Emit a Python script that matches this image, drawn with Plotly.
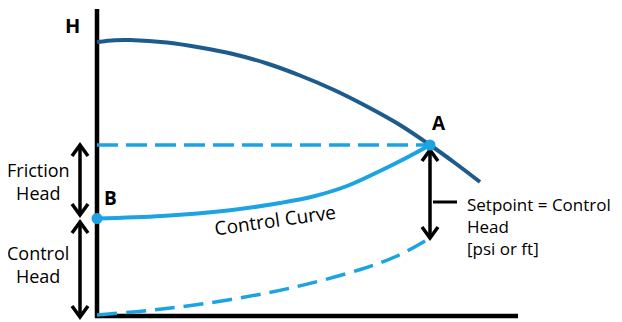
import plotly.graph_objects as go

# Units: flow Q and head H in arbitrary units (1 unit ~ 1 px)
pump_q = [0, 18, 33, 70, 103, 136, 170, 203, 236, 270, 303, 333, 358, 383]
pump_h = [274, 275.8, 276, 273.5, 268.5, 262, 252.5, 240.5, 226.5, 209.5, 191, 171, 153, 134]

ctrl_q = [0, 65, 131, 183, 216, 250, 283, 310, 333]
ctrl_h = [97.5, 100, 105.5, 113, 119.5, 130, 145, 158.5, 171]

sys_q = [0, 65, 131, 198, 265, 300, 333]
sys_h = [1, 7, 16, 29, 47, 60, 78]

point_A = (333, 171)
point_B = (0, 97.5)

DARK = "#1d5b8d"
LIGHT = "#1ba3e2"
FONT = "Open Sans"

fig = go.Figure()

def line(xs, ys, color="black", width=4, dash=None, shape="linear"):
    fig.add_trace(go.Scatter(x=xs, y=ys, mode="lines", hoverinfo="skip",
                             line=dict(color=color, width=width, dash=dash, shape=shape),
                             showlegend=False, cliponaxis=False))

# axes
line([0, 0], [-2, 307], width=4.5)
line([-2, 421], [0, 0], width=4.5)

# curves
line(pump_q, pump_h, DARK, 4, shape="spline")
line([0, point_A[0]], [point_A[1], point_A[1]], LIGHT, 3.5, dash="21px,8px")
line(sys_q, sys_h, LIGHT, 3.5, dash="20px,9px", shape="spline")
line(ctrl_q, ctrl_h, LIGHT, 4, shape="spline")

# double arrows
def double_arrow(q, h_top, h_bot, w=3.5):
    line([q, q], [h_top - 1, h_bot + 1], width=w)
    line([q - 8, q, q + 8], [h_top - 11, h_top, h_top - 11], width=w)
    line([q - 8, q, q + 8], [h_bot + 11, h_bot, h_bot + 11], width=w)

double_arrow(-17, 171, 101)
double_arrow(-17, 94, -1)
double_arrow(333, 166, 78)
line([336, 360], [114, 114], width=3)

# points
fig.add_trace(go.Scatter(x=[point_A[0], point_B[0]], y=[point_A[1], point_B[1]], mode="markers",
                         marker=dict(color=LIGHT, size=11), showlegend=False,
                         hoverinfo="skip", cliponaxis=False))

def text(q, h, s, size=16, bold=False, align="center", xanchor="center", angle=0):
    fig.add_annotation(x=q, y=h, text=f"<b>{s}</b>" if bold else s, showarrow=False,
                       xref="x", yref="y", xanchor=xanchor, yanchor="middle",
                       align=align, textangle=angle,
                       font=dict(family=FONT, size=size, color="black"))

text(-25, 291, "H", 20, bold=True)
text(342, 193, "A", 19, bold=True)
text(13, 118, "B", 19, bold=True)
text(-59, 135, "Friction<br>Head", 18)
text(-59, 52, "Control<br>Head", 18)
text(178, 96, "Control Curve", 19, angle=-8)
text(368, 90, "Setpoint = Control<br>Head<br>[psi or ft]", 17, align="left", xanchor="left")

# page body has an 8px margin: figure starts at (8, 8) in the window
fig.update_layout(
    width=614, height=314, margin=dict(l=0, r=0, t=0, b=0),
    plot_bgcolor="white", paper_bgcolor="white",
    xaxis=dict(range=[-89, 525], visible=False, fixedrange=True),
    yaxis=dict(range=[-6, 308], visible=False, fixedrange=True),
)

fig.write_html("out.html")
